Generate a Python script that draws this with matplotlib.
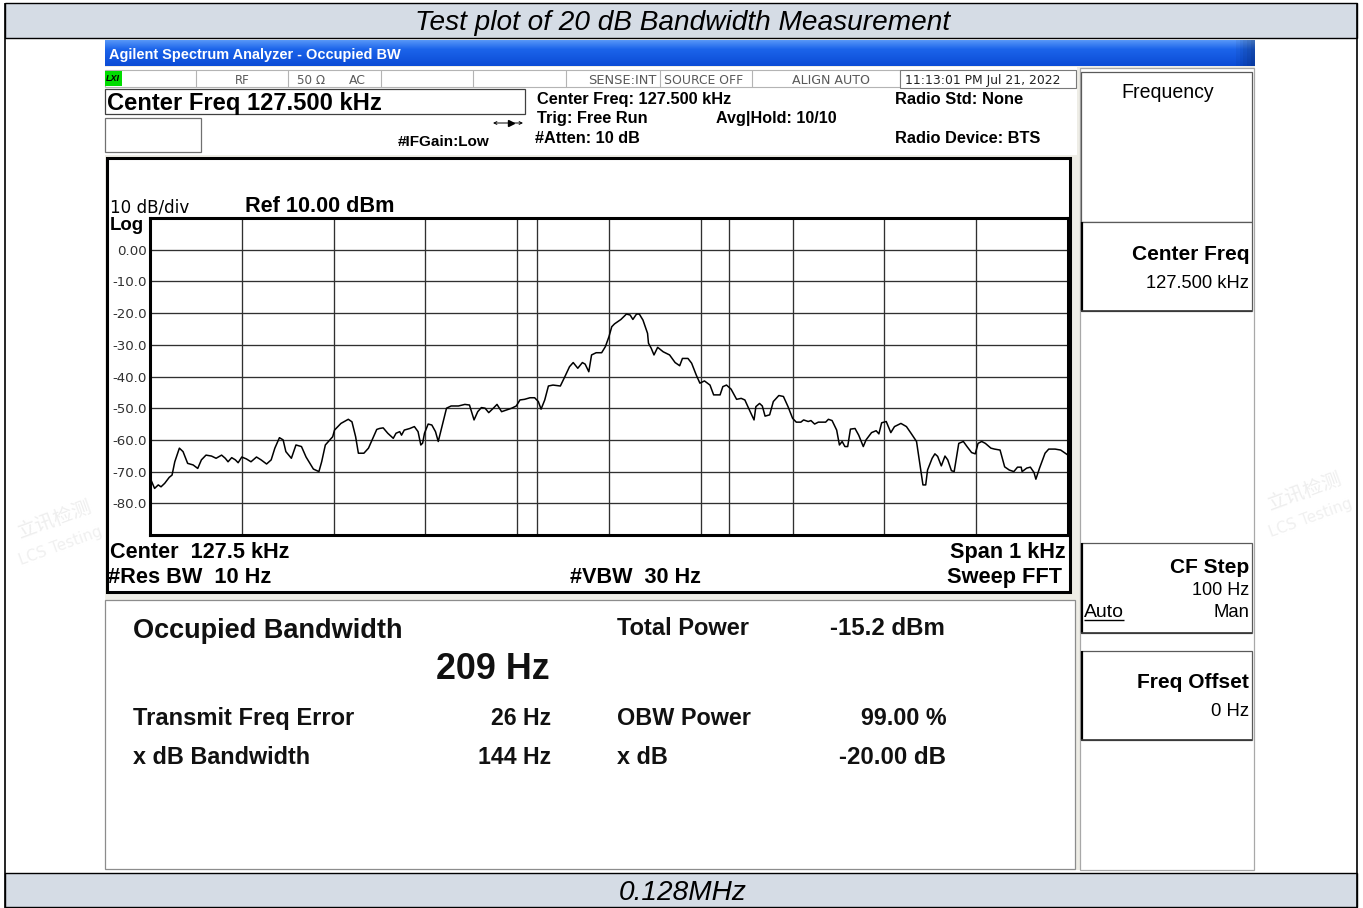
import numpy as np
import matplotlib
matplotlib.use("Agg")
import matplotlib.pyplot as plt
from matplotlib.patches import Rectangle

plt.rcParams["font.family"] = ["DejaVu Sans"]

W, H = 1363, 908

# trace: offset from centre (Hz) / level (dBm)
trace_offset_hz = [
    -499, -495, -491, -488, -484, -479, -476, -473, -468, -464, -459, -453,
    -448, -444, -439, -433, -428, -422, -418, -415, -411, -407, -404, -400,
    -395, -390, -384, -379, -373, -368, -364, -359, -355, -352, -346, -341,
    -335, -330, -322, -316, -313, -309, -304, -301, -299, -292, -284, -280,
    -276, -273, -267, -262, -258, -253, -250,
    -246, -241, -235, -232, -228, -226, -223, -217, -212, -208, -205, -203,
    -201, -197, -193, -189, -186, -182, -177, -172, -164, -157, -152, -147,
    -143, -139, -135, -131, -126, -122, -117, -112, -106, -101, -97, -92,
    -86, -81, -77, -74, -70, -66, -61, -53, -48, -43, -39, -34, -29, -26,
    -22, -19, -14, -8, -4, 0,
    3, 6, 13, 19, 23, 26, 30, 33, 37, 42, 43, 46, 49, 53, 59, 66, 72, 77,
    80, 86, 90, 95, 99, 104, 110, 114, 121, 124, 128, 133, 139, 144, 148,
    153, 158, 160, 164, 167, 170, 175, 179, 185, 190, 195, 200, 204, 209,
    212, 217, 220, 224, 228, 236, 239, 243, 248,
    251, 254, 257, 260, 263, 268, 272, 277, 280, 286, 291, 294, 297, 302,
    307, 311, 318, 324, 329, 335, 338, 342, 345, 347, 352, 355, 358, 362,
    366, 369, 373, 376, 381, 386, 390, 395, 399, 402, 406, 410, 416, 420,
    426, 431, 436, 441, 445, 449, 450, 455, 459, 463, 465, 469, 475, 479,
    486, 492, 500,
]
trace_dbm = [
    -72.6, -75.3, -74.2, -74.8, -73.7, -71.8, -71.1, -66.9, -62.6, -63.7,
    -67.4, -67.9, -69.0, -66.3, -64.8, -65.1, -65.8, -64.8, -65.8, -66.9,
    -65.6, -66.3, -67.2, -65.4, -66.0, -66.9, -65.4, -66.3, -67.6, -66.3,
    -62.6, -59.3, -60.0, -63.7, -65.8, -61.6, -62.1, -65.4, -69.2, -70.0,
    -66.9, -61.6, -60.0, -59.0, -56.9, -54.8, -53.5, -54.3, -59.0, -64.2,
    -64.2, -62.6, -60.0, -56.7, -56.4,
    -56.2, -57.9, -59.5, -57.9, -57.4, -58.5, -56.9, -56.4, -55.8, -57.4,
    -61.6, -61.0, -57.9, -55.0, -55.3, -57.4, -60.5, -55.8, -50.0, -49.3,
    -49.3, -48.8, -49.0, -53.7, -51.1, -49.8, -50.0, -51.4, -50.0, -48.8,
    -51.1, -50.6, -50.0, -49.3, -47.4, -47.2, -46.7, -46.7, -47.9, -50.3,
    -47.4, -43.0, -42.7, -43.0, -40.0, -36.9, -35.6, -37.4, -35.6, -36.1,
    -38.5, -33.2, -32.5, -32.5, -30.6, -27.4,
    -24.3, -23.4, -22.0, -20.3, -20.6, -22.0, -20.3, -20.3, -22.2, -26.4,
    -29.5, -31.1, -33.2, -30.8, -32.2, -33.2, -35.6, -36.6, -34.3, -34.3,
    -35.8, -39.5, -42.1, -41.4, -42.7, -45.8, -45.8, -43.2, -42.7, -44.0,
    -47.2, -46.9, -47.4, -50.6, -53.7, -49.5, -48.5, -49.3, -52.5, -52.1,
    -47.9, -46.0, -46.3, -49.5, -53.2, -54.4, -54.4, -53.7, -54.2, -53.9,
    -55.0, -54.4, -54.4, -53.5, -53.9, -56.9,
    -61.6, -60.5, -62.1, -62.1, -56.6, -56.4, -58.5, -62.1, -60.0, -57.7,
    -57.1, -58.1, -54.6, -54.2, -57.7, -55.8, -54.8, -55.8, -57.9, -60.5,
    -66.3, -74.2, -74.2, -69.5, -65.8, -64.4, -65.2, -68.2, -65.1, -66.3,
    -69.7, -70.0, -61.1, -60.5, -62.1, -64.0, -64.4, -61.1, -60.5, -61.1,
    -62.6, -62.9, -63.2, -68.5, -69.5, -70.0, -68.6, -68.6, -70.0, -68.9,
    -68.6, -70.3, -72.4, -68.9, -64.2, -62.9, -62.9, -63.2, -64.8,
]

span_hz = 1000
ref_level = 10.0
db_per_div = 10
obw_hz = 209
freq_error_hz = 26

fig = plt.figure(figsize=(W / 100, H / 100), dpi=100)
bg = fig.add_axes([0, 0, 1, 1])
bg.set_xlim(0, W)
bg.set_ylim(H, 0)
bg.axis("off")
renderer = fig.canvas.get_renderer()


def box(x0, y0, x1, y1, fc="white", ec="none", lw=0.8, z=1):
    bg.add_patch(Rectangle((x0, y0), x1 - x0, y1 - y0, facecolor=fc,
                           edgecolor=ec, linewidth=lw, zorder=z))


def line(xs, ys, color="black", lw=0.8, z=3):
    bg.plot(xs, ys, color=color, lw=lw, zorder=z, solid_capstyle="butt")


def put(x, y, s, width, ha="left", dy=1.5, **kw):
    """放文字，并把字号调到给定像素宽度"""
    kw.setdefault("zorder", 10)
    t = bg.text(x, y + dy, s, ha=ha, va="center", fontsize=10, **kw)
    w = t.get_window_extent(renderer).width
    t.set_fontsize(10 * width / w)
    return t


# 页面表格
band = "#d5dce5"
box(5, 3, 1357, 38, fc=band, ec="black", lw=1.0)
box(5, 873, 1357, 907, fc=band, ec="black", lw=1.0)
line([5, 5], [3, 908], lw=1.2)
line([1357, 1357], [3, 908], lw=1.2)
put(683, 22, "Test plot of 20 dB Bandwidth Measurement", 536, ha="center",
    style="italic", family="Liberation Sans")
put(683, 892, "0.128MHz", 128, ha="center", style="italic",
    family="Liberation Sans")

# 水印（很淡）
cjk = ["Noto Sans CJK SC", "DejaVu Sans"]
for (x, y) in [(55, 520), (1305, 492)]:
    bg.text(x, y, "立讯检测", rotation=20, color="#eeeeee", fontsize=14,
            family=cjk, ha="center", va="center", zorder=0.5)
    bg.text(x + 6, y + 26, "LCS Testing", rotation=20, color="#f0f0f0",
            fontsize=11, ha="center", va="center", zorder=0.5)

# 仪器截图底色
box(105, 40, 1255, 870, fc="#eeede6", z=1)

# 标题栏渐变
rows, cols = 26, 300
t = np.linspace(0, 1, rows)[:, None]
top = np.array([0x55, 0x95, 0xf7]) / 255
mid = np.array([0x1c, 0x64, 0xea]) / 255
bot = np.array([0x0b, 0x4c, 0xd6]) / 255
prof = np.where(t < 0.35, top + (mid - top) * (t / 0.35),
                mid + (bot - mid) * ((t - 0.35) / 0.65))
grad = np.repeat(prof[:, None, :], cols, axis=1).reshape(rows, cols, 3)
fade = np.ones(cols)
fade[-6:] = np.linspace(1.0, 0.75, 6)
grad = np.clip(grad * fade[None, :, None], 0, 1)
bg.imshow(grad, extent=(105, 1255, 66, 40), aspect="auto", zorder=2)
put(109, 54, "Agilent Spectrum Analyzer - Occupied BW", 291, color="white",
    weight="bold", family="Liberation Sans", zorder=11)

# 顶部信息区
box(105, 67, 1077, 155, fc="white", z=2)
box(105, 70, 900, 87, fc="white", ec="#b4b4b4", lw=0.8, z=3)
for x in [196, 288, 381, 473, 566, 660, 752]:
    line([x, x], [70, 87], color="#b4b4b4", z=4)
box(900, 70, 1076, 88, fc="white", ec="#7a7a7a", lw=0.8, z=3)
box(105, 71, 122, 86, fc="#00dd00", z=4)
put(106, 78.5, "LXI", 14, dy=0, style="italic", weight="bold",
    family="Liberation Sans")
grey = "#5a5a5a"
put(242, 79, "RF", 15, ha="center", color=grey)
put(297, 79, "50 Ω", 28, color=grey)
put(349, 79, "AC", 17, color=grey)
put(588, 79, "SENSE:INT", 68, color=grey)
put(664, 79, "SOURCE OFF", 79, color=grey)
put(792, 79, "ALIGN AUTO", 78, color=grey)
put(905, 79, "11:13:01 PM Jul 21, 2022", 155, color="#222222")

box(105, 89, 525, 114, fc="white", ec="#404040", lw=0.9, z=3)
put(107, 102, "Center Freq 127.500 kHz", 275, family="Liberation Sans",
    weight="bold")
box(105, 118, 201, 152, fc="white", ec="#707070", lw=0.9, z=3)
put(398, 140, "#IFGain:Low", 91, family="Liberation Sans", weight="bold")
bg.annotate("", xy=(523, 123), xytext=(493, 123), zorder=10,
            arrowprops=dict(arrowstyle="<->", lw=0.7, color="black",
                            shrinkA=0, shrinkB=0, mutation_scale=5))
bg.plot([511], [123], marker=">", ms=4, color="black", zorder=11)
bold_kw = dict(family="Liberation Sans", weight="bold")
put(537, 98, "Center Freq: 127.500 kHz", 195, **bold_kw)
put(537, 117, "Trig: Free Run", 112, **bold_kw)
put(535, 137, "#Atten: 10 dB", 105, **bold_kw)
put(716, 117, "Avg|Hold: 10/10", 121, **bold_kw)
put(895, 98, "Radio Std: None", 128, **bold_kw)
put(895, 137, "Radio Device: BTS", 146, **bold_kw)

# 迹线窗口外框
box(107, 158, 1070, 592, fc="white", ec="black", lw=2.2, z=3)
put(110, 206, "10 dB/div", 80)
put(245, 205, "Ref 10.00 dBm", 150, **bold_kw)
put(110, 224, "Log", 34, **bold_kw)
put(110, 551, "Center  127.5 kHz", 179, **bold_kw)
put(108, 576, "#Res BW  10 Hz", 163, **bold_kw)
put(570, 576, "#VBW  30 Hz", 131, **bold_kw)
put(1066, 551, "Span 1 kHz", 115, ha="right", **bold_kw)
put(1062, 576, "Sweep FFT", 115, ha="right", **bold_kw)

# 结果区
box(105, 600, 1075, 869, fc="white", ec="#8c8c8c", lw=0.9, z=3)
res_kw = dict(family="Liberation Sans", weight="bold", color="#111111")
put(133, 630, "Occupied Bandwidth", 270, **res_kw)
put(436, 668, f"{obw_hz} Hz", 113, **res_kw)
put(617, 627, "Total Power", 132, **res_kw)
put(945, 627, "-15.2 dBm", 115, ha="right", **res_kw)
put(133, 717, "Transmit Freq Error", 222, **res_kw)
put(551, 717, f"{freq_error_hz} Hz", 60, ha="right", **res_kw)
put(617, 717, "OBW Power", 134, **res_kw)
put(947, 717, "99.00 %", 86, ha="right", **res_kw)
put(133, 756, "x dB Bandwidth", 177, **res_kw)
put(551, 756, "144 Hz", 73, ha="right", **res_kw)
put(617, 756, "x dB", 51, **res_kw)
put(946, 756, "-20.00 dB", 107, ha="right", **res_kw)

# 软键栏
box(1080, 68, 1254, 870, fc="white", ec="#a8a8a8", lw=0.9, z=3)
for (y0, y1) in [(72, 222), (222, 311), (543, 633), (651, 740)]:
    box(1081, y0, 1252, y1, fc="white", ec="#5a5a5a", lw=0.9, z=4)
for (y0, y1) in [(222, 311), (543, 633), (651, 740)]:
    line([1081.5, 1081.5], [y0, y1], color="black", lw=1.6, z=5)
    line([1081, 1252], [y1, y1], color="#333333", lw=1.2, z=5)
sk_kw = dict(family="Liberation Sans")
put(1168, 91, "Frequency", 93, ha="center", **sk_kw)
put(1249, 253, "Center Freq", 118, ha="right", weight="bold", **sk_kw)
put(1249, 282, "127.500 kHz", 103, ha="right", **sk_kw)
put(1249, 566, "CF Step", 79, ha="right", weight="bold", **sk_kw)
put(1249, 589, "100 Hz", 57, ha="right", **sk_kw)
put(1084, 611, "Auto", 40, **sk_kw)
line([1084, 1124], [620, 620], lw=1.0, z=11)
put(1249, 611, "Man", 36, ha="right", **sk_kw)
put(1249, 681, "Freq Offset", 113, ha="right", weight="bold", **sk_kw)
put(1249, 710, "0 Hz", 38, ha="right", **sk_kw)

# 频谱迹线
ax = fig.add_axes([150 / W, 1 - 535 / H, 918 / W, 317 / H], zorder=5)
ax.set_facecolor("white")
ax.plot(trace_offset_hz, trace_dbm, color="black", lw=1.1, zorder=4)
half = span_hz / 2
ax.set_xlim(-half, half)
bottom = ref_level - 10 * db_per_div
ax.set_ylim(bottom, ref_level)
ax.set_xticks(np.arange(-half, half + 1, span_hz / 10))
yt = np.arange(bottom, ref_level + 1, db_per_div)
ax.set_yticks(yt)
labels = []
for v in yt:
    if v == ref_level or v == bottom:
        labels.append("")
    elif v == 0:
        labels.append("0.00")
    else:
        labels.append(f"{v:.1f}")
ax.set_yticklabels(labels, fontsize=9.6, color="#303030")
ax.tick_params(length=0, labelbottom=False, pad=2.5)
ax.grid(True, color="#303030", lw=0.95)
for lo in (freq_error_hz - obw_hz / 2, freq_error_hz + obw_hz / 2):
    ax.axvline(lo, color="#303030", lw=0.95, zorder=2)
for sp in ax.spines.values():
    sp.set_linewidth(2.2)
    sp.set_color("black")

fig.savefig("out.png", dpi=100)
plt.close(fig)
